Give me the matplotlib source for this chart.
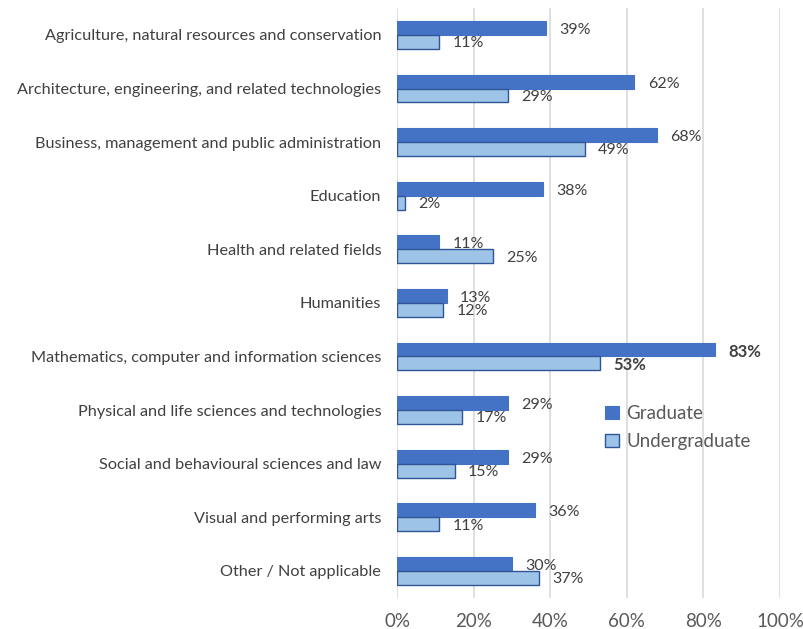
import matplotlib.pyplot as plt
import numpy as np

# Share of respondents by field of study
categories = [
    "Agriculture, natural resources and conservation",
    "Architecture, engineering, and related technologies",
    "Business, management and public administration",
    "Education",
    "Health and related fields",
    "Humanities",
    "Mathematics, computer and information sciences",
    "Physical and life sciences and technologies",
    "Social and behavioural sciences and law",
    "Visual and performing arts",
    "Other / Not applicable",
]
graduate = [39, 62, 68, 38, 11, 13, 83, 29, 29, 36, 30]
undergraduate = [11, 29, 49, 2, 25, 12, 53, 17, 15, 11, 37]
bold_row = "Mathematics, computer and information sciences"

plt.rcParams['font.family'] = ['Lato', 'DejaVu Sans']

fig = plt.figure(figsize=(8.04, 6.29), dpi=100)
ax = fig.add_axes([0.494, 0.05, 0.476, 0.937])

y = np.arange(len(categories))
h = 0.26
ax.barh(y - h / 2, graduate, height=h, color='#4472C4', edgecolor='#4472C4',
        linewidth=0.8, label='Graduate', zorder=3)
ax.barh(y + h / 2, undergraduate, height=h, color='#9DC3E6', edgecolor='#2F5597',
        linewidth=1.0, label='Undergraduate', zorder=3)

for i, cat in enumerate(categories):
    weight = 'bold' if cat == bold_row else 'normal'
    size = 12 if cat == bold_row else 11.5
    ax.annotate(f"{graduate[i]}%", (graduate[i], y[i] - h / 2), xytext=(9.5, -1.5),
                textcoords='offset points', va='center', ha='left',
                fontsize=size, color='#404040', fontweight=weight)
    ax.annotate(f"{undergraduate[i]}%", (undergraduate[i], y[i] + h / 2), xytext=(9.5, -1),
                textcoords='offset points', va='center', ha='left',
                fontsize=size, color='#404040', fontweight=weight)

ax.set_xlim(0, 100)
ax.set_ylim(len(categories) - 0.5, -0.5)
ax.set_yticks(y)
ax.set_yticklabels(categories, fontsize=11.7, color='#404040')
ax.set_xticks(range(0, 101, 20))
ax.set_xticklabels([f"{v}%" for v in range(0, 101, 20)], fontsize=13.5, color='#595959')
ax.tick_params(axis='both', length=0)
ax.tick_params(axis='y', pad=11.5)
ax.tick_params(axis='x', pad=11)
ax.grid(axis='x', color='#D9D9D9', linewidth=1.2, zorder=0)
for s in ax.spines.values():
    s.set_visible(False)

leg = ax.legend(loc='upper left', bbox_to_anchor=(0.5, 0.355), frameon=False,
                fontsize=13.5, handlelength=0.7, handleheight=0.7, handletextpad=0.4,
                labelspacing=0.6)
for t in leg.get_texts():
    t.set_color('#595959')

plt.savefig('out.png', dpi=100)
